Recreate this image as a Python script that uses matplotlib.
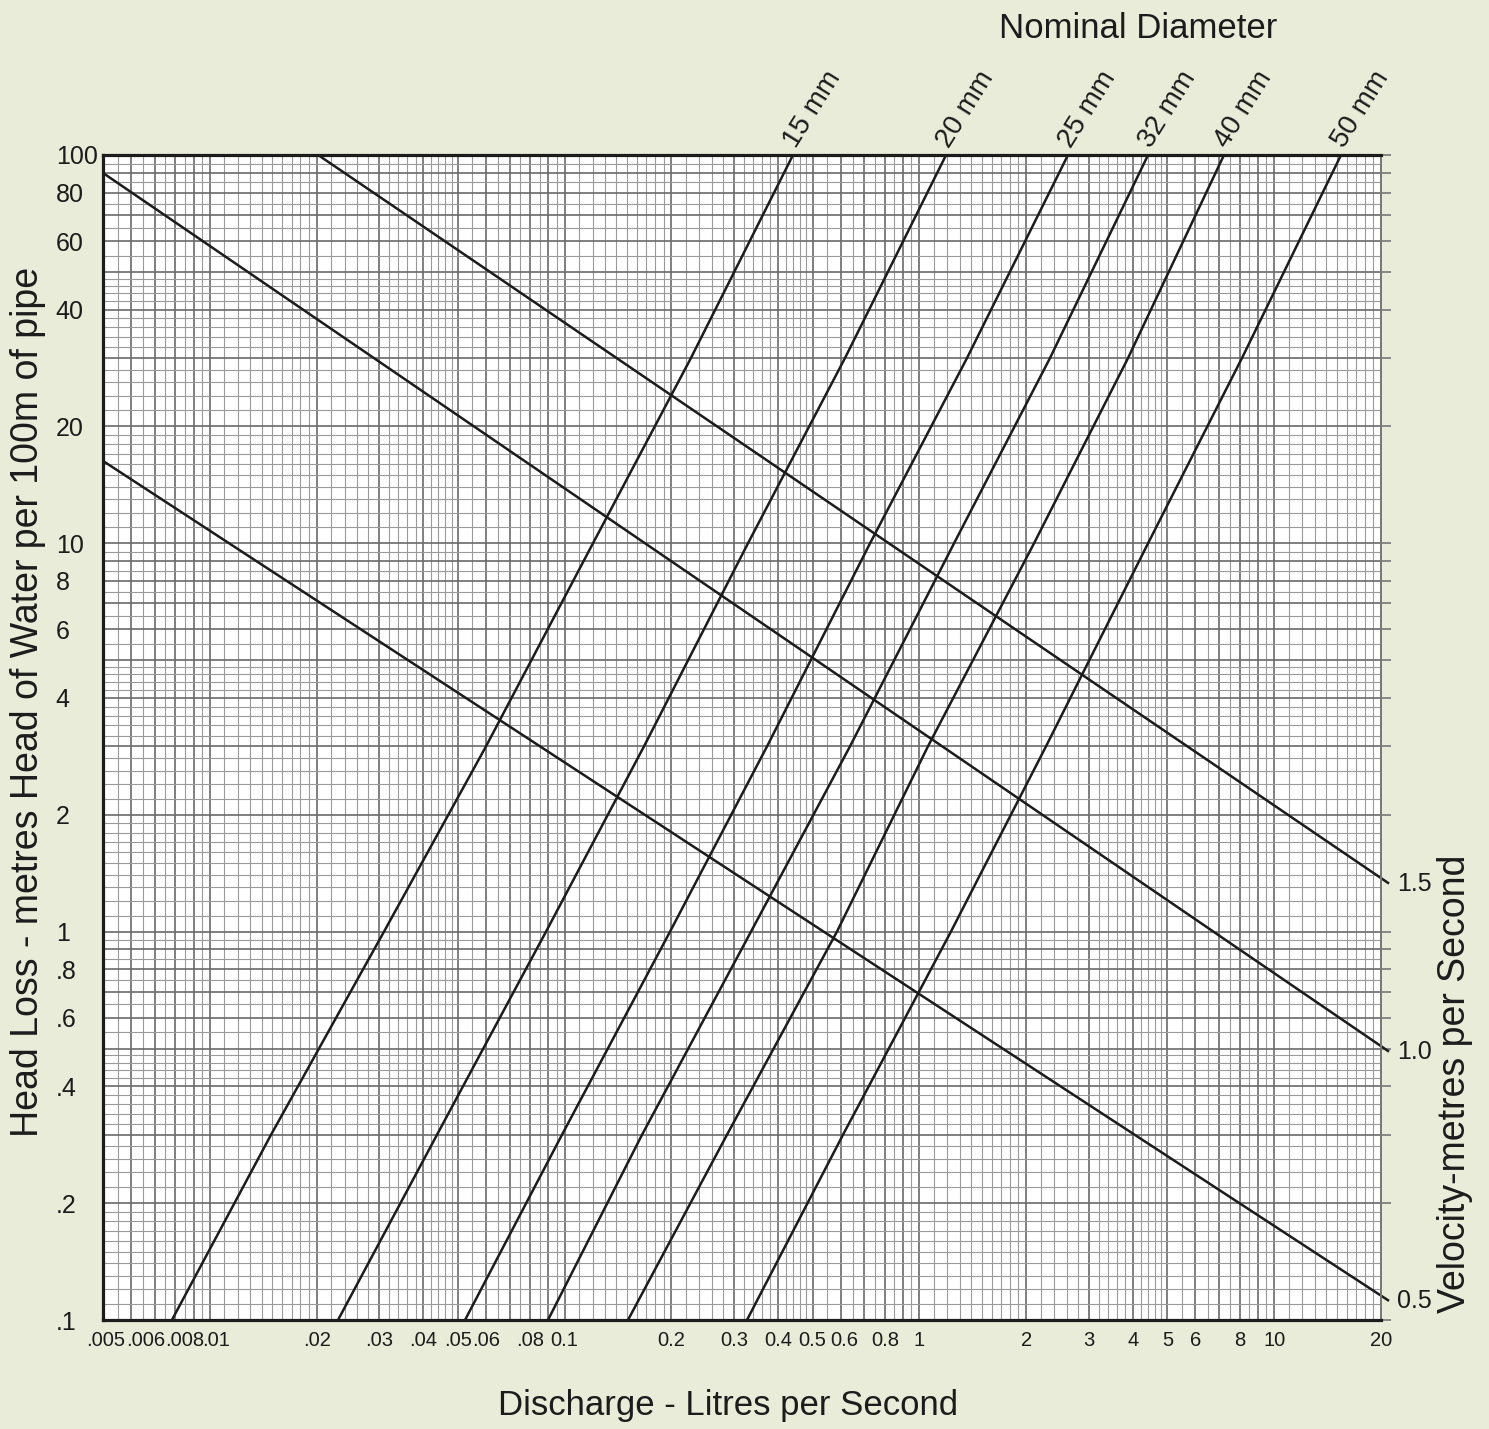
import matplotlib
matplotlib.use('Agg')
import matplotlib.pyplot as plt
from matplotlib.ticker import FixedLocator, FuncFormatter
import matplotlib.transforms as mtransforms

# ---------------- data ----------------
head_levels = [0.1, 0.3, 1, 3, 10, 30, 100]          # head loss (m / 100 m)
q_15mm = [0.00782, 0.01488, 0.03097, 0.06004, 0.1202, 0.2270, 0.4403]
q_20mm = [0.02298, 0.04369, 0.08863, 0.1674, 0.3287, 0.6170, 1.189]
q_25mm = [0.05240, 0.09833, 0.1982, 0.3720, 0.7258, 1.362, 2.623]
q_32mm = [0.08978, 0.1653, 0.3352, 0.6373, 1.252, 2.334, 4.410]
q_40mm = [0.1509, 0.2869, 0.5856, 1.057, 2.104, 3.873, 7.220]
q_50mm = [0.3266, 0.6091, 1.227, 2.274, 4.410, 8.114, 15.43]
diameter_labels = ['15 mm', '20 mm', '25 mm', '32 mm', '40 mm', '50 mm']

velocity_labels = ['0.5', '1.0', '1.5']
vel_q = [[0.005, 21.07], [0.005, 21.07], [0.0202, 21.07]]
vel_h = [[16.3, 0.112], [89.9, 0.491], [100.0, 1.33]]

x_tick_vals = [0.005, 0.006, 0.008, 0.01, 0.02, 0.03, 0.04, 0.05, 0.06, 0.08,
               0.1, 0.2, 0.3, 0.4, 0.5, 0.6, 0.8, 1, 2, 3, 4, 5, 6, 8, 10, 20]
x_tick_text = ['.005', '.006', '.008', '.01', '.02', '.03', '.04', '.05', '.06', '.08',
               '0.1', '0.2', '0.3', '0.4', '0.5', '0.6', '0.8', '1', '2', '3', '4', '5',
               '6', '8', '10', '20']
y_tick_vals = [0.1, 0.2, 0.4, 0.6, 0.8, 1, 2, 4, 6, 8, 10, 20, 40, 60, 80, 100]
y_tick_text = ['.1', '.2', '.4', '.6', '.8', '1', '2', '4', '6', '8', '10', '20',
               '40', '60', '80', '100']

# ---------------- style ----------------
BG = '#E8ECD8'
INK = '#1c1c1c'
NARROW = ['Liberation Sans Narrow', 'Liberation Sans', 'DejaVu Sans']
REGULAR = ['Liberation Sans', 'DejaVu Sans']
plt.rcParams['font.family'] = REGULAR

W, H = 1489, 1429
fig = plt.figure(figsize=(W / 100, H / 100), dpi=100, facecolor=BG)
L, R, T, B = 103, 1381, 155, 1320
ax = fig.add_axes([L / W, 1 - B / H, (R - L) / W, (B - T) / H])
ax.set_facecolor('white')
ax.set_xscale('log')
ax.set_yscale('log')
ax.set_xlim(0.005, 20)
ax.set_ylim(0.1, 100)


def decade_ticks(lo, hi, mants):
    out = []
    for e in range(-4, 3):
        for m in mants:
            v = round(m * 10.0 ** e, 12)
            if lo * (1 - 1e-9) <= v <= hi * (1 + 1e-9):
                out.append(v)
    return sorted(set(out))


major_m = [1, 2, 3, 4, 5, 6, 7, 8, 9]
minor_m = ([1 + 0.1 * i for i in range(1, 10)] +
           [2 + 0.2 * i for i in range(1, 15) if i % 5 != 0] +
           [5.5, 6.5, 7.5, 8.5, 9.5])

ax.xaxis.set_major_locator(FixedLocator(decade_ticks(0.005, 20, major_m)))
ax.xaxis.set_minor_locator(FixedLocator(decade_ticks(0.005, 20, minor_m)))
ax.yaxis.set_major_locator(FixedLocator(decade_ticks(0.1, 100, major_m)))
ax.yaxis.set_minor_locator(FixedLocator(decade_ticks(0.1, 100, minor_m)))


def make_fmt(vals, texts):
    def f(v, pos):
        for tv, tt in zip(vals, texts):
            if abs(v - tv) <= 1e-6 * tv:
                return tt
        return ''
    return FuncFormatter(f)


ax.xaxis.set_major_formatter(make_fmt(x_tick_vals, x_tick_text))
ax.yaxis.set_major_formatter(make_fmt(y_tick_vals, y_tick_text))
ax.xaxis.set_minor_formatter(FuncFormatter(lambda v, p: ''))
ax.yaxis.set_minor_formatter(FuncFormatter(lambda v, p: ''))

ax.set_axisbelow(True)
ax.grid(which='minor', color='#9a9a9a', lw=0.8)
ax.grid(which='major', color='#6a6a6a', lw=1.2)

ax.tick_params(axis='x', which='both', length=0, pad=8)
ax.tick_params(axis='y', which='major', left=False, right=True, direction='out',
               length=7, width=1.2, color='#777777', labelleft=True, pad=27)
ax.tick_params(axis='y', which='minor', left=False, right=False)

for lab in ax.get_xticklabels():
    lab.set_fontfamily(NARROW)
    lab.set_fontsize(14.5)
    lab.set_color(INK)
for lab in ax.get_yticklabels():
    lab.set_fontfamily(NARROW)
    lab.set_fontsize(18)
    lab.set_color(INK)
    lab.set_horizontalalignment('left')

# nudge crowded x labels as in the reference
shifts = {'.005': 3, '.006': 15, '.008': 9, '.01': 6, '0.6': 4}
for lab in ax.get_xticklabels():
    s = shifts.get(lab.get_text())
    if s:
        lab.set_transform(lab.get_transform() +
                          mtransforms.ScaledTranslation(s / 100, 0, fig.dpi_scale_trans))

for side in ['left', 'top', 'bottom']:
    ax.spines[side].set_linewidth(2.3)
    ax.spines[side].set_color(INK)
ax.spines['right'].set_linewidth(1.4)
ax.spines['right'].set_color('#777777')

# ---------------- diameter curves ----------------
series = [q_15mm, q_20mm, q_25mm, q_32mm, q_40mm, q_50mm]
for q, lab in zip(series, diameter_labels):
    ax.plot(q, head_levels, color=INK, lw=1.8, solid_capstyle='butt')
    ax.annotate(lab, xy=(q[-1], head_levels[-1]), xytext=(2, 4),
                textcoords='offset points', rotation=58, rotation_mode='anchor',
                ha='left', va='baseline', fontsize=20, family=NARROW, color=INK,
                annotation_clip=False)

# ---------------- velocity lines ----------------
for q, h, lab in zip(vel_q, vel_h, velocity_labels):
    ax.plot(q, h, color=INK, lw=1.8, clip_on=False, solid_capstyle='butt')
    ax.annotate(lab, xy=(q[-1], h[-1]), xytext=(6, 0), textcoords='offset points',
                ha='left', va='center', fontsize=18, family=NARROW, color=INK,
                annotation_clip=False)

# ---------------- titles ----------------
fig.text(728 / W, 1 - 1405 / H, 'Discharge - Litres per Second', ha='center',
         va='center', fontsize=25, color=INK)
fig.text(1138 / W, 1 - 28 / H, 'Nominal Diameter', ha='center', va='center',
         fontsize=25, color=INK)
fig.text(28 / W, 1 - 702 / H, 'Head Loss - metres Head of Water per 100m of pipe',
         rotation=90, ha='center', va='center', fontsize=27, color=INK)
fig.text(1455 / W, 1 - 1084 / H, 'Velocity-metres per Second', rotation=90,
         ha='center', va='center', fontsize=27, color=INK)

fig.savefig('out.png', dpi=100, facecolor=BG)
